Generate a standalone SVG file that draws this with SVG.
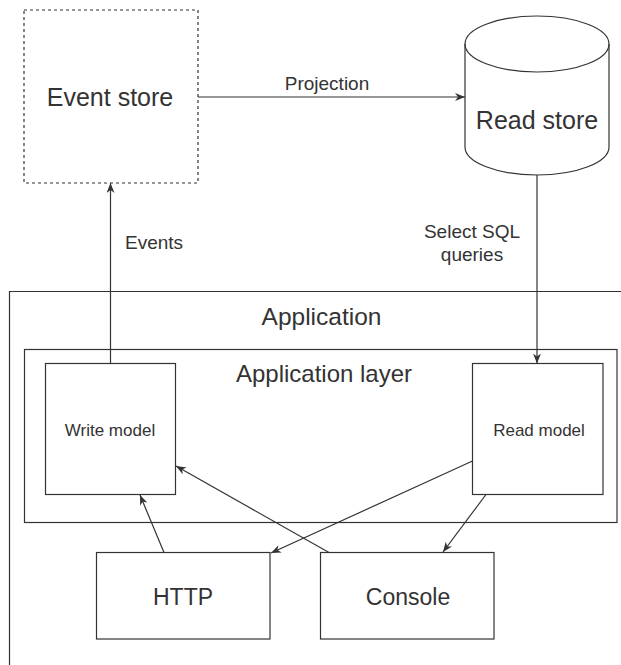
<svg xmlns="http://www.w3.org/2000/svg" width="621" height="665" viewBox="0 0 621 665">
<defs>
<style>
.box{fill:#fff;stroke:#333;stroke-width:1.2}
.cont{fill:none;stroke:#333;stroke-width:1.2}
.t{font-family:"Liberation Sans",Arial,sans-serif;fill:#333;text-anchor:middle}
.edge{fill:none;stroke:#333;stroke-width:1.2}
</style>
<marker id="arr" viewBox="0 0 10 8" refX="10" refY="4" markerWidth="10" markerHeight="8" markerUnits="userSpaceOnUse" orient="auto">
<path d="M0,0 L10,4 L0,8 L3,4 Z" fill="#333"/>
</marker>
</defs>
<rect width="621" height="665" fill="#fff"/>
<g id="application">
<path class="cont" d="M621,291.5 H9.5 V665"/>
<text class="t" x="321.5" y="325" font-size="24.5">Application</text>
</g>
<g id="application-layer">
<rect class="cont" x="24.5" y="349.5" width="592.5" height="173"/>
<text class="t" x="324" y="382" font-size="24">Application layer</text>
</g>
<g id="event-store">
<rect x="24" y="10" width="174" height="173" fill="#fff" stroke="#333" stroke-width="1.2" stroke-dasharray="3,3"/>
<text class="t" x="110" y="106" font-size="25">Event store</text>
</g>
<g id="read-store">
<path class="box" d="M465,44 A72,28 0 0 1 609,44 L609,147 A72,28 0 0 1 465,147 Z"/>
<path class="cont" d="M465,44 A72,28 0 0 0 609,44"/>
<text class="t" x="537" y="129" font-size="25">Read store</text>
</g>
<g id="write-model">
<rect class="box" x="45.5" y="363.5" width="130" height="131"/>
<text class="t" x="110" y="436" font-size="17">Write model</text>
</g>
<g id="read-model">
<rect class="box" x="472.5" y="363.5" width="130.5" height="131"/>
<text class="t" x="539" y="436" font-size="17">Read model</text>
</g>
<g id="http">
<rect class="box" x="96.5" y="552.5" width="173.5" height="86.5"/>
<text class="t" x="183" y="605" font-size="23">HTTP</text>
</g>
<g id="console">
<rect class="box" x="320.5" y="552.5" width="173.5" height="86.5"/>
<text class="t" x="408" y="605" font-size="23">Console</text>
</g>
<g id="connectors">
<line class="edge" x1="198" y1="97" x2="465" y2="97" marker-end="url(#arr)"/>
<text class="t" x="327" y="90" font-size="19">Projection</text>
<line class="edge" x1="537" y1="175" x2="537" y2="363.5" marker-end="url(#arr)"/>
<text class="t" x="472" y="238" font-size="19">Select SQL</text>
<text class="t" x="472" y="261" font-size="19">queries</text>
<line class="edge" x1="110.5" y1="363.5" x2="110.5" y2="183" marker-end="url(#arr)"/>
<text class="t" x="154" y="249" font-size="19">Events</text>
<line class="edge" x1="164" y1="552.5" x2="140" y2="495" marker-end="url(#arr)"/>
<line class="edge" x1="329" y1="552.5" x2="176" y2="466" marker-end="url(#arr)"/>
<line class="edge" x1="472.5" y1="461" x2="271" y2="553" marker-end="url(#arr)"/>
<line class="edge" x1="486" y1="494.5" x2="443" y2="552" marker-end="url(#arr)"/>
</g>
</svg>
